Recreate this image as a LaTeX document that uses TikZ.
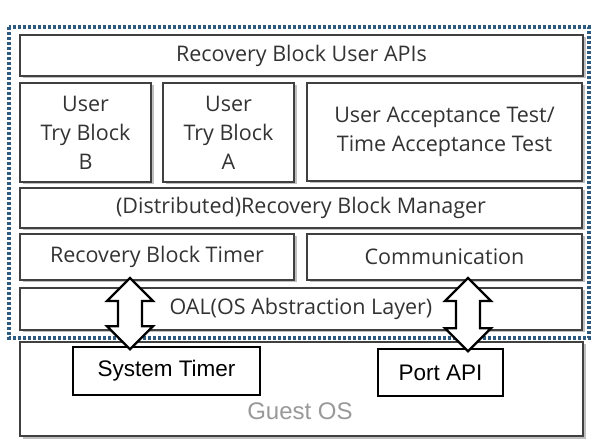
\documentclass[tikz,border=0pt]{standalone}
\usepackage{fontspec}
\newfontfamily\uifont{Open Sans}
\newfontfamily\osfont{Liberation Sans}
\usepackage{tikz}
\usetikzlibrary{calc,shadows}

\definecolor{boxline}{HTML}{404040}
\definecolor{boxtext}{HTML}{333333}
\definecolor{frameblue}{HTML}{2F5A80}

\begin{document}
\begin{tikzpicture}[x=1pt,y=-1pt,
        layer/.style={draw=boxline, line width=2pt, fill=white, text=boxtext,
          inner sep=0pt, align=center, font=\uifont\fontsize{21.5}{29}\selectfont,
          drop shadow={shadow xshift=2.5pt, shadow yshift=-2.5pt, opacity=0.5}},
        osbox/.style={draw=black, line width=1.6pt, fill=white, inner sep=0pt,
          font=\osfont\fontsize{22.5}{26}\selectfont},
        blockarrow/.style={draw=black, line width=2.2pt, fill=white, line join=miter}
      ]
        \useasboundingbox (0,0) rectangle (592,446);

        % Guest OS
        \node[layer, minimum width=563pt, minimum height=94pt] (guest) at (301.5,389) {};
        \node[text=black!40, font=\osfont\fontsize{24}{28}\selectfont, anchor=base] (guestlbl) at (300,420) {Guest OS};
        \node[osbox, minimum width=187pt, minimum height=48pt] (systimer) at (166.5,371) {System Timer};
        \node[osbox, minimum width=125pt, minimum height=47pt] (portapi) at (440.5,372.5) {Port API};

        % Recovery Block Framework
        \node[layer, minimum width=563pt, minimum height=41pt] (apis) at (301.5,55.5) {Recovery Block User APIs};
        \node[layer, minimum width=131pt, minimum height=99pt] (tryb) at (85.5,132.5) {User\\Try Block\\B};
        \node[layer, minimum width=131pt, minimum height=99pt] (trya) at (228.5,132.5) {User\\Try Block\\A};
        \node[layer, minimum width=275pt, minimum height=98pt] (accept) at (444.5,132) {User Acceptance Test/\\Time Acceptance Test};
        \node[layer, minimum width=562pt, minimum height=40pt] (manager) at (301,208) {(Distributed)Recovery Block Manager};
        \node[layer, minimum width=274pt, minimum height=46pt] (timer) at (157,257) {Recovery Block Timer};
        \node[layer, minimum width=275pt, minimum height=46pt] (comm) at (444.5,257) {Communication};
        \node[layer, minimum width=562pt, minimum height=42pt] (oal) at (301,309) {OAL(OS Abstraction Layer)};

        % dotted frame
        \draw[frameblue, line width=3.2pt, dash pattern=on 3pt off 2pt]
          ($(apis.north west)+(-10,-7)$) rectangle ($(oal.south east)+(6,7)$);

        % up-down arrows
        \foreach \ax/\from/\to in {130/timer/systimer, 468/comm/portapi} {
          \draw[blockarrow]
            let \p1 = (\from.south), \p2 = (\to.north) in
            (\ax,\y1+3pt) -- ++(23,23) -- ++(-11,0) -- (\ax+12pt,\y2+20pt)
            -- ++(11,0) -- (\ax,\y2-3pt) -- ++(-23,-23) -- ++(11,0)
            -- (\ax-12pt,\y1-20pt) -- ++(-11,0) -- cycle;
        }
      \end{tikzpicture}
\end{document}
